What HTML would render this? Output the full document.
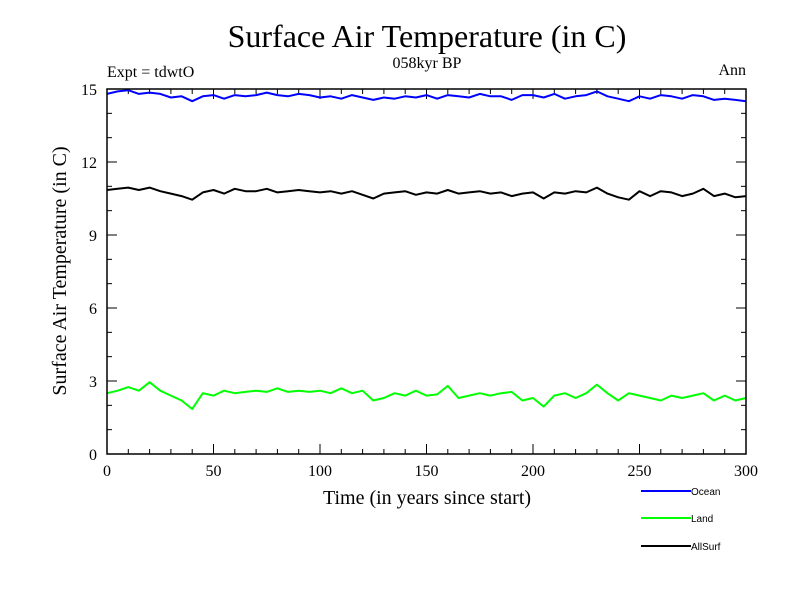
<!DOCTYPE html>
<html><head><meta charset="utf-8"><style>
html,body{margin:0;padding:0;background:#fff;}
svg{display:block;font-family:"Liberation Serif",serif;}
</style></head><body>
<svg id="chart" width="800" height="600" xmlns="http://www.w3.org/2000/svg">
<rect width="800" height="600" fill="#fff"/>
<text x="427" y="47" font-size="32" text-anchor="middle">Surface Air Temperature (in C)</text>
<text x="427" y="68" font-size="16" text-anchor="middle">058kyr BP</text>
<text x="107" y="77" font-size="16">Expt = tdwtO</text>
<text x="746" y="75" font-size="16" text-anchor="end">Ann</text>
<text x="427" y="504" font-size="20" text-anchor="middle">Time (in years since start)</text>
<text transform="translate(66,271) rotate(-90)" font-size="20" text-anchor="middle">Surface Air Temperature (in C)</text>
<g id="ticks"></g>
<g id="series"></g>
<rect x="107" y="89" width="639" height="365" fill="none" stroke="#000" stroke-width="1.5"/>
<g id="legend" font-family="Liberation Sans, sans-serif" font-size="10"></g>
</svg>
<script>
const years = [];
for (let i = 0; i <= 60; i++) years.push(i * 5);
const ocean = [14.8,14.9,14.95,14.8,14.85,14.8,14.65,14.7,14.5,14.7,14.75,14.6,14.75,14.7,14.75,14.85,14.75,14.7,14.8,14.75,14.65,14.7,14.6,14.75,14.65,14.55,14.65,14.6,14.7,14.65,14.75,14.6,14.75,14.7,14.65,14.8,14.7,14.7,14.55,14.75,14.75,14.65,14.8,14.6,14.7,14.75,14.9,14.7,14.6,14.5,14.7,14.6,14.75,14.7,14.6,14.75,14.7,14.55,14.6,14.55,14.5];
const land = [2.5,2.6,2.75,2.6,2.95,2.6,2.4,2.2,1.85,2.5,2.4,2.6,2.5,2.55,2.6,2.55,2.7,2.55,2.6,2.55,2.6,2.5,2.7,2.5,2.6,2.2,2.3,2.5,2.4,2.6,2.4,2.45,2.8,2.3,2.4,2.5,2.4,2.5,2.55,2.2,2.3,1.95,2.4,2.5,2.3,2.5,2.85,2.5,2.2,2.5,2.4,2.3,2.2,2.4,2.3,2.4,2.5,2.2,2.4,2.2,2.3];
const allSurf = [10.85,10.9,10.95,10.85,10.95,10.8,10.7,10.6,10.45,10.75,10.85,10.7,10.9,10.8,10.8,10.9,10.75,10.8,10.85,10.8,10.75,10.8,10.7,10.8,10.65,10.5,10.7,10.75,10.8,10.65,10.75,10.7,10.85,10.7,10.75,10.8,10.7,10.75,10.6,10.7,10.75,10.5,10.75,10.7,10.8,10.75,10.95,10.7,10.55,10.45,10.8,10.6,10.8,10.75,10.6,10.7,10.9,10.6,10.7,10.55,10.6];
const xTicks = [0,50,100,150,200,250,300];
const yTicks = [0,3,6,9,12,15];

const NS = "http://www.w3.org/2000/svg";
const X0 = 107, X1 = 746, Y0 = 454, Y1 = 89;
const xs = v => X0 + (v / 300) * (X1 - X0);
const ys = v => Y0 - (v / 15) * (Y0 - Y1);
function mk(tag, attrs, parent) {
  const e = document.createElementNS(NS, tag);
  for (const k in attrs) e.setAttribute(k, attrs[k]);
  parent.appendChild(e);
  return e;
}
const tg = document.getElementById('ticks');
for (let v = 0; v <= 300; v += 10) {
  const len = v % 50 === 0 ? 10 : 5;
  const x = xs(v);
  const t1 = mk('line', {x1: x, x2: x, y1: Y0, y2: Y0 - len, stroke: '#000', 'stroke-width': 1}, tg);
  
  
  const t2 = mk('line', {x1: x, x2: x, y1: Y1, y2: Y1 + len, stroke: '#000', 'stroke-width': 1}, tg);
  
  
}
for (let v = 0; v <= 15; v += 1) {
  const len = v % 3 === 0 ? 10 : 5;
  const y = ys(v);
  const t1 = mk('line', {x1: X0, x2: X0 + len, y1: y, y2: y, stroke: '#000', 'stroke-width': 1}, tg);
  
  
  const t2 = mk('line', {x1: X1, x2: X1 - len, y1: y, y2: y, stroke: '#000', 'stroke-width': 1}, tg);
  
  
}
xTicks.forEach(v => {
  const t = mk('text', {x: xs(v), y: Y0 + 22, 'font-size': 16, 'text-anchor': 'middle'}, tg);
  t.textContent = v;
  
  
});
yTicks.forEach(v => {
  const t = mk('text', {x: X0 - 10, y: ys(v) + 6, 'font-size': 16, 'text-anchor': 'end'}, tg);
  t.textContent = v;
  
  
});
const sg = document.getElementById('series');
const seriesList = [['ocean', ocean, '#0000ff'], ['land', land, '#00ff00'], ['allsurf', allSurf, '#000000']];
seriesList.forEach(([name, vals, col]) => {
  const d = vals.map((v, i) => (i ? 'L' : 'M') + xs(years[i]).toFixed(1) + ',' + ys(v).toFixed(1)).join(' ');
  const p = mk('path', {d: d, fill: 'none', stroke: col, 'stroke-width': 2, 'stroke-linejoin': 'round'}, sg);
  
  
});
const lg = document.getElementById('legend');
[['Ocean', '#0000ff', 491], ['Land', '#00ff00', 518], ['AllSurf', '#000000', 546]].forEach(([lab, col, y]) => {
  const l = mk('line', {x1: 641, x2: 691, y1: y, y2: y, stroke: col, 'stroke-width': 2}, lg);
  
  
  const t = mk('text', {x: 691, y: y + 4}, lg);
  t.textContent = lab;
  
  
});
</script>
</body></html>
